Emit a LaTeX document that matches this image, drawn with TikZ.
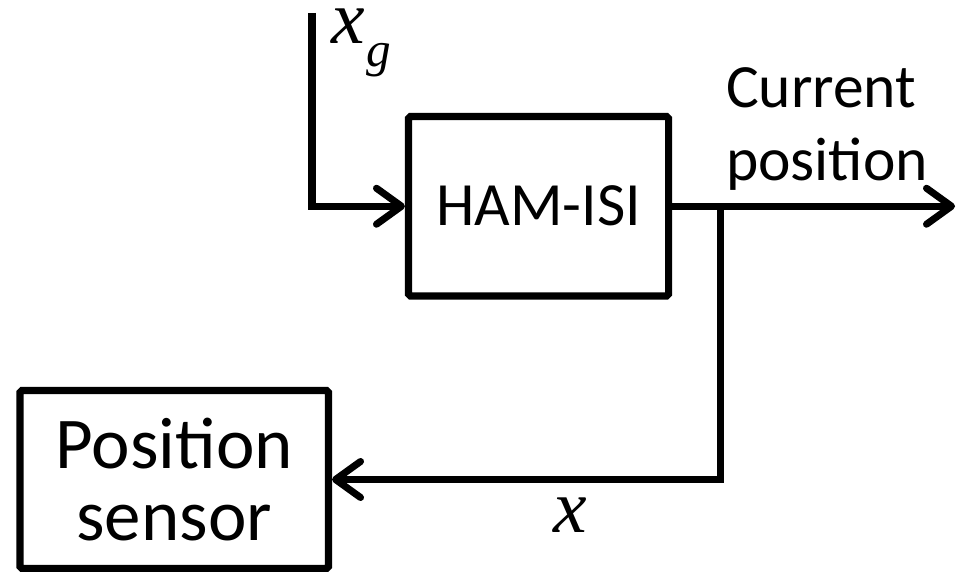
\documentclass[tikz,border=0pt]{standalone}
\usepackage{fontspec}
\setmainfont{Carlito}
\newfontfamily\tnr{Liberation Serif}
\usetikzlibrary{arrows.meta}
\usetikzlibrary{positioning}

\begin{document}
\begin{tikzpicture}[line width=4pt,
    block/.style={draw, rectangle, rounded corners=1pt, inner sep=0pt},
    tip/.style={-{Straight Barb[length=0.5cm, width=0.72cm, round]}},
    varlabel/.style={inner sep=0pt, font=\fontsize{43}{43}\tnr\itshape}]
  \useasboundingbox (0,0) rectangle (19.18,11.44);

  \node[block, minimum width=5.2cm, minimum height=3.59cm, font=\fontsize{35}{42}\selectfont] (ham) at (10.77,7.315) {HAM-ISI};
  \node[block, minimum width=6.17cm, minimum height=3.56cm, align=center, font=\fontsize{41.5}{41}\selectfont] (sensor) at (3.485,1.85) {Position\\sensor};

  \coordinate (xgin) at (6.24,11.18);
  \coordinate (split) at (14.4,7.315);
  \coordinate (out) at (19.1,7.315);

  \draw[tip] (xgin) |- (ham.west);
  \draw[tip] (ham.east) -- (out);
  \draw[tip] (split) |- (sensor.east);

  % labels
  \node[varlabel, anchor=base west] (xg) at (6.56,10.56) {x\kern1pt\raisebox{-0.3em}{\fontsize{28}{28}\selectfont g}};
  \node[varlabel, anchor=base west] (x) at (11.0,0.78) {x};
  \node[anchor=north west, align=left, inner sep=0pt, font=\fontsize{35}{41.5}\selectfont] (cur) at (14.45,10.15) {Current\\position};
\end{tikzpicture}
\end{document}
